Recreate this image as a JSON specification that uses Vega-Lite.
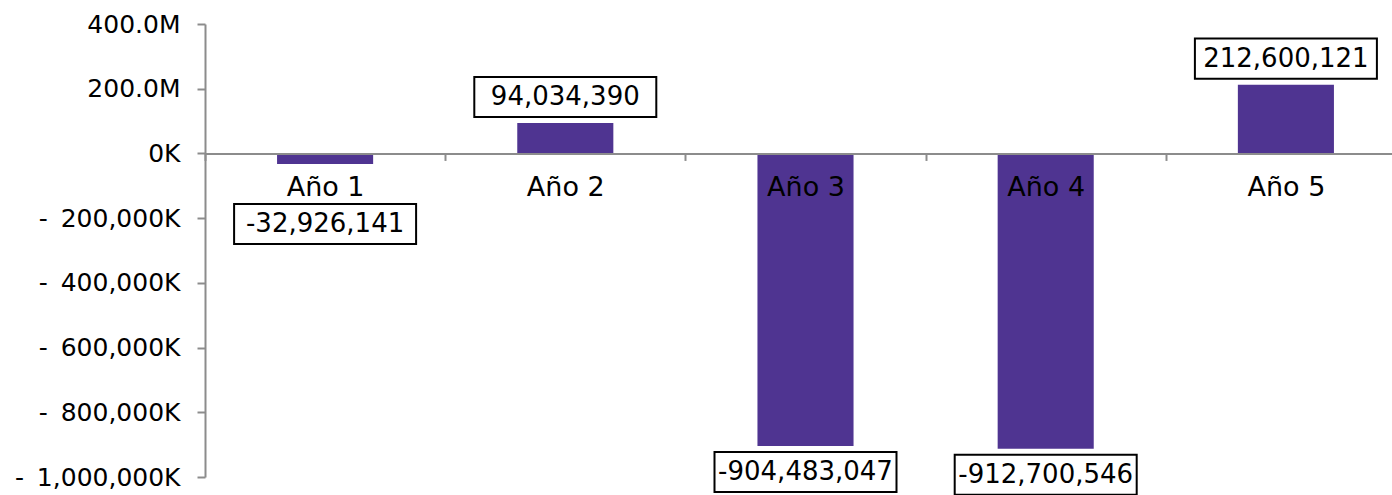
{
  "$schema": "https://vega.github.io/schema/vega-lite/v6.json",
  "width": 1201,
  "height": 453,
  "autosize": {"type": "none"},
  "padding": {"left": 205, "top": 24, "right": 0, "bottom": 18},
  "background": "white",
  "config": {
    "view": {"stroke": null},
    "font": "DejaVu Sans",
    "locale": {"number": {"decimal": ".", "thousands": ",", "grouping": [3], "currency": ["$", ""], "minus": "-"}}
  },
  "data": {
    "values": [
      {"year": "Año 1", "value": -32926141},
      {"year": "Año 2", "value": 94034390},
      {"year": "Año 3", "value": -904483047},
      {"year": "Año 4", "value": -912700546},
      {"year": "Año 5", "value": 212600121}
    ]
  },
  "encoding": {
    "x": {
      "field": "year",
      "type": "nominal",
      "sort": null,
      "scale": {"paddingInner": 0, "paddingOuter": 0},
      "axis": {
        "title": null,
        "orient": "bottom",
        "offset": -323.57,
        "domainColor": "#8C8C8C",
        "domainWidth": 2,
        "tickColor": "#8C8C8C",
        "tickWidth": 2,
        "tickSize": 7,
        "tickBand": "extent",
        "labelFontSize": 27,
        "labelFont": "DejaVu Sans",
        "labelColor": "black",
        "labelPadding": 14,
        "labelAngle": 0,
        "zindex": 1
      }
    },
    "y": {
      "field": "value",
      "type": "quantitative",
      "scale": {"domain": [-1000000000, 400000000], "nice": false, "zero": false},
      "axis": {
        "title": null,
        "grid": false,
        "values": [-1000000000, -800000000, -600000000, -400000000, -200000000, 0, 200000000, 400000000],
        "labelExpr": "datum.value > 0 ? format(datum.value / 1000000, '.1f') + 'M' : (datum.value == 0 ? '0K' : '-\u2009 ' + format(-datum.value / 1000, ',') + 'K')",
        "labelFontSize": 25,
        "labelFont": "DejaVu Sans",
        "labelColor": "black",
        "labelPadding": 17,
        "domainColor": "#8C8C8C",
        "domainWidth": 2,
        "tickColor": "#8C8C8C",
        "tickWidth": 2,
        "tickSize": 8,
        "zindex": 1
      }
    }
  },
  "layer": [
    {
      "mark": {"type": "bar", "color": "#4F3491", "width": {"band": 0.4}}
    },
    {
      "mark": {
        "type": "point",
        "shape": "M-1,-0.22L1,-0.22L1,0.22L-1,0.22Z",
        "size": 33124,
        "filled": true,
        "fill": "white",
        "stroke": "black",
        "strokeWidth": 2,
        "opacity": 1,
        "yOffset": {"expr": "datum.value > 0 ? -26 : (datum.value > -100000000 ? 60 : 26)"}
      }
    },
    {
      "mark": {
        "type": "text",
        "fontSize": 26,
        "font": "DejaVu Sans",
        "color": "black",
        "baseline": "middle",
        "yOffset": {"expr": "datum.value > 0 ? -26 : (datum.value > -100000000 ? 60 : 26)"}
      },
      "encoding": {"text": {"field": "value", "type": "quantitative", "format": ","}}
    }
  ]
}
